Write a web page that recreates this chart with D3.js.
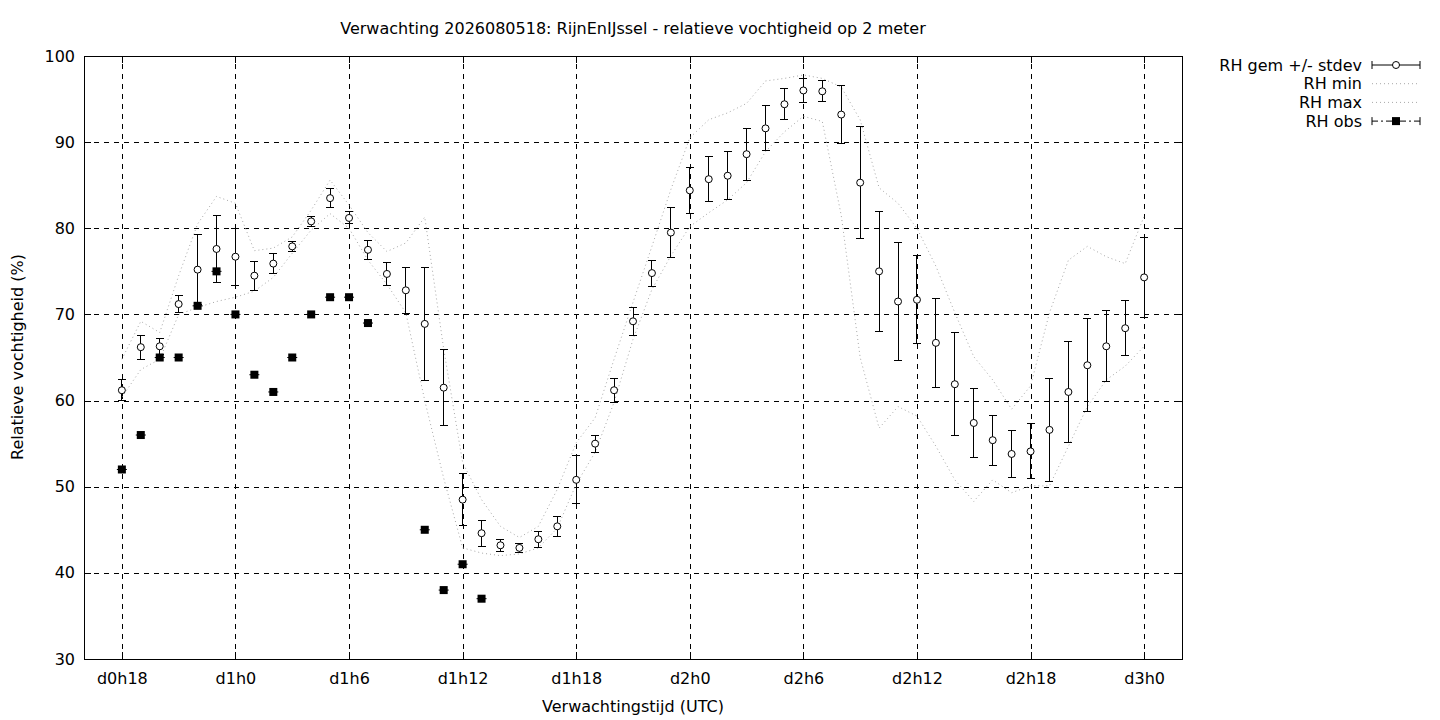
<!DOCTYPE html>
<html lang="nl">
<head>
<meta charset="UTF-8">
<title>RH verwachting</title>
<script src="https://cdn.jsdelivr.net/npm/d3@7"></script>
<style>
  body { margin: 0; background: #fff; }
  svg text { font-family: "DejaVu Sans", sans-serif; fill: #000; }
  .axis path, .axis line { stroke: #000; shape-rendering: crispEdges; }
  .grid line { stroke: #000; stroke-dasharray: 5,5; shape-rendering: crispEdges; }
  .grid path { display: none; }
  .bar { shape-rendering: crispEdges; }
</style>
</head>
<body>
<div id="chart"></div>
<script>
// forecast hours since d0h0
const hours = d3.range(18, 73);

const rhMean = [61.2, 66.2, 66.3, 71.2, 75.2, 77.6, 76.7, 74.5, 75.9, 77.9, 80.8, 83.5, 81.2, 77.5,
  74.7, 72.8, 68.9, 61.5, 48.5, 44.6, 43.2, 42.9, 43.9, 45.4, 50.8, 55.0, 61.2, 69.2, 74.8, 79.5,
  84.4, 85.7, 86.1, 88.6, 91.6, 94.4, 96.0, 95.9, 93.2, 85.3, 75.0, 71.5, 71.7, 66.7, 61.9, 57.4,
  55.4, 53.8, 54.1, 56.6, 61.0, 64.1, 66.3, 68.4, 74.3];

const rhStdev = [1.2, 1.4, 0.9, 1.0, 4.1, 3.9, 3.3, 1.7, 1.2, 0.6, 0.6, 1.1, 0.7, 1.1,
  1.3, 2.7, 6.6, 4.4, 3.0, 1.5, 0.7, 0.5, 0.9, 1.2, 2.8, 1.0, 1.4, 1.6, 1.5, 2.9,
  2.7, 2.6, 2.8, 3.0, 2.6, 1.8, 1.4, 1.2, 3.4, 6.5, 7.0, 6.9, 5.1, 5.2, 6.0, 4.0,
  2.9, 2.7, 3.2, 6.0, 5.9, 5.4, 4.1, 3.2, 4.6];

const rhMin = [60.4, 63.6, 64.8, 70.0, 70.8, 71.5, 72.0, 72.7, 74.3, 77.1, 79.8, 81.7, 80.0, 76.3,
  73.5, 70.2, 60.0, 51.0, 42.9, 42.3, 42.0, 42.2, 42.9, 45.2, 50.3, 54.0, 59.8, 67.1, 72.9, 76.8,
  80.2, 81.8, 83.3, 85.3, 88.9, 91.2, 93.0, 92.4, 81.5, 65.0, 56.8, 59.3, 58.2, 54.7, 50.8, 48.3,
  50.8, 49.3, 50.1, 50.1, 54.7, 59.3, 62.4, 64.0, 66.3];

const rhMax = [64.8, 69.2, 67.9, 74.5, 80.5, 83.7, 82.9, 77.4, 77.7, 79.0, 82.1, 85.6, 82.7, 79.5,
  77.3, 78.3, 81.3, 66.0, 52.8, 48.5, 45.4, 44.1, 45.4, 49.7, 55.1, 58.0, 64.8, 71.4, 77.9, 84.5,
  90.5, 92.6, 93.4, 94.5, 97.1, 97.4, 97.8, 97.4, 96.4, 92.6, 84.7, 82.9, 80.0, 75.6, 70.2, 65.1,
  62.4, 59.0, 61.7, 70.2, 76.3, 77.9, 76.7, 75.9, 81.4];

const obsHours = [18, 19, 20, 21, 22, 23, 24, 25, 26, 27, 28, 29, 30, 31, 34, 35, 36, 37];
const rhObs = [52, 56, 65, 65, 71, 75, 70, 63, 61, 65, 70, 72, 72, 69, 45, 38, 41, 37];

const xTicks = [18, 24, 30, 36, 42, 48, 54, 60, 66, 72];
const yTicks = [30, 40, 50, 60, 70, 80, 90, 100];

const titleText = "Verwachting 2026080518: RijnEnIJssel - relatieve vochtigheid op 2 meter";
const legendLabels = ["RH gem +/- stdev", "RH min", "RH max", "RH obs"];

const W = 1440, H = 720;
const margin = {top: 56, right: 258, bottom: 61, left: 84};
const width = W - margin.left - margin.right;
const height = H - margin.top - margin.bottom;
const fs = 16;

const svg = d3.select("#chart").append("svg")
  .attr("width", W).attr("height", H);

const g = svg.append("g")
  .attr("transform", `translate(${margin.left},${margin.top})`);

const x = d3.scaleLinear().domain([16, 74]).range([0, width]);
const y = d3.scaleLinear().domain([30, 100]).range([height, 0]);

const hourLabel = h => `d${Math.floor(h / 24)}h${h % 24}`;

// grid
g.append("g").attr("class", "grid")
  .attr("transform", `translate(0,${height})`)
  .call(d3.axisBottom(x).tickValues(xTicks).tickSize(-height).tickFormat(""));
g.append("g").attr("class", "grid")
  .call(d3.axisLeft(y).tickValues(yTicks.slice(1, -1)).tickSize(-width).tickFormat(""));

// axes, ticks inward + mirrored
g.append("g").attr("class", "axis")
  .attr("transform", `translate(0,${height})`)
  .call(d3.axisBottom(x).tickValues(xTicks).tickFormat(hourLabel).tickSize(-7).tickSizeOuter(0).tickPadding(14));
g.append("g").attr("class", "axis")
  .call(d3.axisTop(x).tickValues(xTicks).tickFormat("").tickSize(-7).tickSizeOuter(0));
g.append("g").attr("class", "axis")
  .call(d3.axisLeft(y).tickValues(yTicks).tickSize(-7).tickSizeOuter(0).tickPadding(9));
g.append("g").attr("class", "axis")
  .attr("transform", `translate(${width},0)`)
  .call(d3.axisRight(y).tickValues(yTicks).tickFormat("").tickSize(-7).tickSizeOuter(0));

svg.selectAll(".axis text").attr("font-size", fs).attr("font-family", "DejaVu Sans");
g.selectAll(".axis .domain").remove();

g.append("rect")
  .attr("width", width).attr("height", height)
  .attr("fill", "none").attr("stroke", "#000").attr("stroke-width", 1)
  .attr("shape-rendering", "crispEdges");

// min / max lines
const lineOf = arr => d3.line().x((d, i) => x(hours[i])).y(d => y(d))(arr);
[rhMin, rhMax].forEach(arr => {
  g.append("path")
    .attr("d", lineOf(arr))
    .attr("fill", "none")
    .attr("stroke", "#a8a8a8")
    .attr("stroke-width", 1)
    .attr("stroke-dasharray", "1,3");
});

// mean +/- stdev
const tick = 4;
const err = g.append("g").attr("class", "bar").selectAll("g")
  .data(hours.map((h, i) => ({h, m: rhMean[i], s: rhStdev[i]})))
  .join("g");
err.append("line")
  .attr("x1", d => x(d.h)).attr("x2", d => x(d.h))
  .attr("y1", d => y(d.m - d.s)).attr("y2", d => y(d.m + d.s))
  .attr("stroke", "#000");
err.append("line")
  .attr("x1", d => x(d.h) - tick).attr("x2", d => x(d.h) + tick)
  .attr("y1", d => y(d.m + d.s)).attr("y2", d => y(d.m + d.s))
  .attr("stroke", "#000");
err.append("line")
  .attr("x1", d => x(d.h) - tick).attr("x2", d => x(d.h) + tick)
  .attr("y1", d => y(d.m - d.s)).attr("y2", d => y(d.m - d.s))
  .attr("stroke", "#000");
err.append("circle")
  .attr("cx", d => x(d.h)).attr("cy", d => y(d.m)).attr("r", 3.5)
  .attr("fill", "#fff").attr("stroke", "#000")
  .attr("shape-rendering", "auto");

// observations
const obs = g.append("g").selectAll("g")
  .data(obsHours.map((h, i) => ({h, v: rhObs[i]})))
  .join("g");
obs.append("line")
  .attr("x1", d => x(d.h) - 5).attr("x2", d => x(d.h) + 5)
  .attr("y1", d => y(d.v)).attr("y2", d => y(d.v))
  .attr("stroke", "#000");
obs.append("rect")
  .attr("x", d => x(d.h) - 4).attr("y", d => y(d.v) - 4)
  .attr("width", 8).attr("height", 8)
  .attr("fill", "#000");

// titles
svg.append("text")
  .attr("x", 633).attr("y", 34)
  .attr("text-anchor", "middle").attr("font-size", fs)
  .text(titleText);
svg.append("text")
  .attr("x", 633).attr("y", 712)
  .attr("text-anchor", "middle").attr("font-size", fs)
  .text("Verwachtingstijd (UTC)");
svg.append("text")
  .attr("transform", "translate(23,357) rotate(-90)")
  .attr("text-anchor", "middle").attr("font-size", fs)
  .text("Relatieve vochtigheid (%)");

// legend
const lx0 = 1372, lx1 = 1420, ly0 = 65, lstep = 18.7;
const leg = svg.append("g");
legendLabels.forEach((lab, i) => {
  const ly = ly0 + i * lstep;
  leg.append("text")
    .attr("x", 1362).attr("y", ly).attr("dy", "0.35em")
    .attr("text-anchor", "end").attr("font-size", fs)
    .text(lab);
});
// gem
leg.append("line").attr("x1", lx0).attr("x2", lx1).attr("y1", ly0).attr("y2", ly0).attr("stroke", "#000");
[lx0, lx1].forEach(xx => leg.append("line").attr("x1", xx).attr("x2", xx)
  .attr("y1", ly0 - tick).attr("y2", ly0 + tick).attr("stroke", "#000"));
leg.append("circle").attr("cx", (lx0 + lx1) / 2).attr("cy", ly0).attr("r", 3.5)
  .attr("fill", "#fff").attr("stroke", "#000");
// min, max
[1, 2].forEach(i => leg.append("line")
  .attr("x1", lx0).attr("x2", lx1)
  .attr("y1", ly0 + i * lstep).attr("y2", ly0 + i * lstep)
  .attr("stroke", "#a8a8a8").attr("stroke-dasharray", "1,3"));
// obs
const oy = ly0 + 3 * lstep;
leg.append("line").attr("x1", lx0).attr("x2", lx1).attr("y1", oy).attr("y2", oy)
  .attr("stroke", "#000").attr("stroke-dasharray", "6,3,2,3");
[lx0, lx1].forEach(xx => leg.append("line").attr("x1", xx).attr("x2", xx)
  .attr("y1", oy - tick).attr("y2", oy + tick).attr("stroke", "#000"));
leg.append("rect").attr("x", (lx0 + lx1) / 2 - 4).attr("y", oy - 4)
  .attr("width", 8).attr("height", 8).attr("fill", "#000");
</script>
</body>
</html>
